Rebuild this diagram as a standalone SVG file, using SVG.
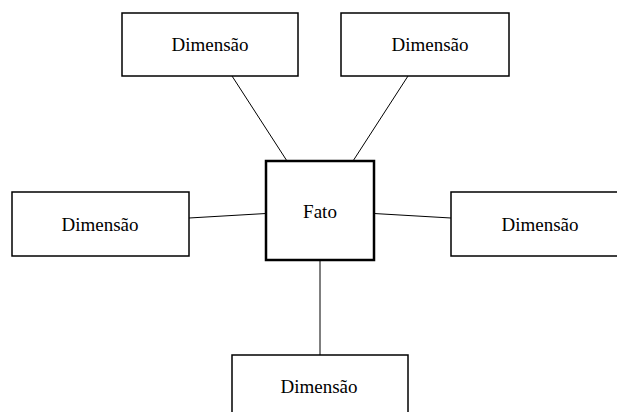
<svg xmlns="http://www.w3.org/2000/svg" width="617" height="412" viewBox="0 0 617 412">
  <style>
    .dim rect { fill: #fff; stroke: #000; stroke-width: 1.5; }
    .fact rect { fill: #fff; stroke: #000; stroke-width: 2.5; }
    text { font-family: "Liberation Serif", "Times New Roman", serif; font-size: 19px; fill: #000; text-anchor: middle; }
    #connectors line { stroke: #000; stroke-width: 1; }
  </style>
  <rect width="617" height="412" fill="#fff"/>

  <g id="connectors">
    <line x1="232" y1="76" x2="287" y2="161"/>
    <line x1="408" y1="76" x2="353" y2="161"/>
    <line x1="189" y1="218" x2="266" y2="213.5"/>
    <line x1="374" y1="213.5" x2="451" y2="218"/>
    <line x1="320" y1="260" x2="320" y2="355"/>
  </g>

  <g id="dim-top-left" class="dim">
    <rect x="122" y="13" width="176" height="63"/>
    <text x="210" y="51">Dimensão</text>
  </g>
  <g id="dim-top-right" class="dim">
    <rect x="341" y="13" width="168" height="63"/>
    <text x="430" y="51">Dimensão</text>
  </g>
  <g id="dim-left" class="dim">
    <rect x="12" y="192" width="177" height="64"/>
    <text x="100" y="231">Dimensão</text>
  </g>
  <g id="dim-right" class="dim">
    <rect x="451" y="192" width="180" height="64"/>
    <text x="540" y="231">Dimensão</text>
  </g>
  <g id="dim-bottom" class="dim">
    <rect x="232" y="355" width="176" height="70"/>
    <text x="319" y="393">Dimensão</text>
  </g>

  <g id="fato" class="fact">
    <rect x="266" y="161" width="108" height="99"/>
    <text x="320" y="218">Fato</text>
  </g>
</svg>
